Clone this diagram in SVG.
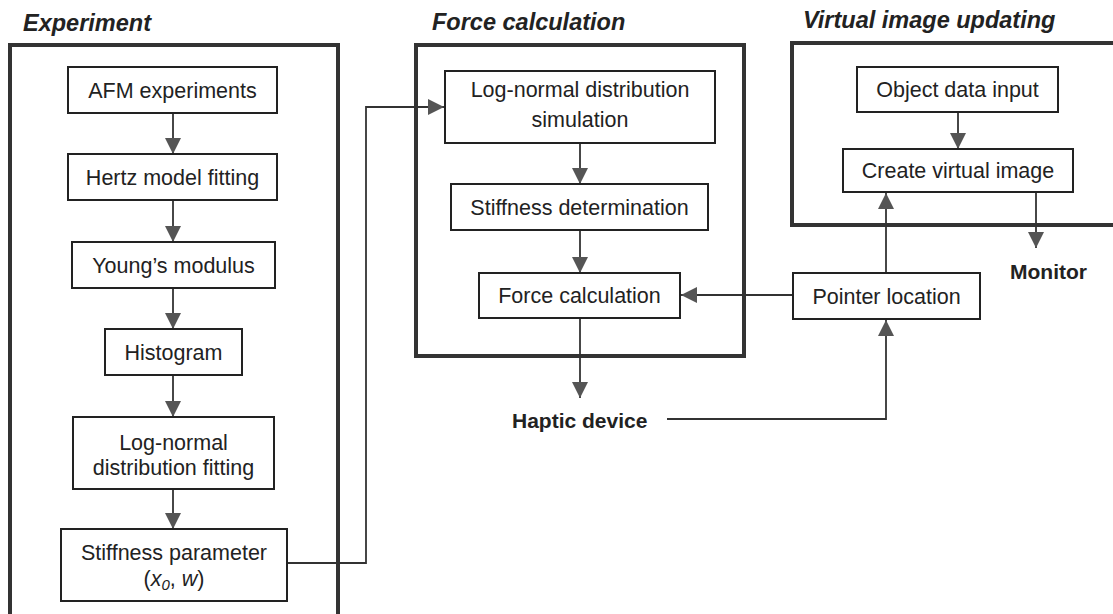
<svg xmlns="http://www.w3.org/2000/svg" width="1113" height="614" viewBox="0 0 1113 614">
<defs>
<style>
.frame{fill:none;stroke:#333;stroke-width:4}
.box{fill:#fff;stroke:#222;stroke-width:2}
.t{font-family:"Liberation Sans",Arial,sans-serif;font-size:21.5px;fill:#222;text-anchor:middle}
.title{font-family:"Liberation Sans",Arial,sans-serif;font-size:23.5px;font-weight:bold;font-style:italic;fill:#222}
.lbl{font-family:"Liberation Sans",Arial,sans-serif;font-size:21px;font-weight:bold;fill:#222}
.c{fill:none;stroke:#333;stroke-width:1.8}
</style>
<marker id="ah" markerUnits="userSpaceOnUse" markerWidth="16" markerHeight="16" viewBox="0 0 14 14" refX="14" refY="7" orient="auto">
<path d="M0,0 L14,7 L0,14 z" fill="#555"/>
</marker>
</defs>
<rect width="1113" height="614" fill="#fff"/>

<g id="frames">
<path class="frame" d="M10,620 V45 H338 V620"/>
<rect class="frame" x="416" y="45" width="328" height="311"/>
<path class="frame" d="M1120,43 H792 V225 H1120"/>
<text class="title" x="23" y="31">Experiment</text>
<text class="title" x="432" y="30">Force calculation</text>
<text class="title" x="803" y="28">Virtual image updating</text>
</g>

<g id="connectors">
<line class="c" x1="173" y1="113" x2="173" y2="154" marker-end="url(#ah)"/>
<line class="c" x1="173" y1="200" x2="173" y2="242" marker-end="url(#ah)"/>
<line class="c" x1="173" y1="288" x2="173" y2="329" marker-end="url(#ah)"/>
<line class="c" x1="173" y1="375" x2="173" y2="417" marker-end="url(#ah)"/>
<line class="c" x1="173" y1="489" x2="173" y2="529" marker-end="url(#ah)"/>
<path class="c" d="M287,563 H366 V107 H444" marker-end="url(#ah)"/>
<line class="c" x1="580" y1="143" x2="580" y2="184" marker-end="url(#ah)"/>
<line class="c" x1="580" y1="230" x2="580" y2="273" marker-end="url(#ah)"/>
<line class="c" x1="580" y1="318" x2="580" y2="398" marker-end="url(#ah)"/>
<line class="c" x1="793" y1="295" x2="681" y2="295" marker-end="url(#ah)"/>
<path class="c" d="M667,419 H886 V320" marker-end="url(#ah)"/>
<line class="c" x1="886" y1="273" x2="886" y2="193" marker-end="url(#ah)"/>
<line class="c" x1="958" y1="112" x2="958" y2="149" marker-end="url(#ah)"/>
<line class="c" x1="1036" y1="192" x2="1036" y2="248" marker-end="url(#ah)"/>
</g>

<g id="afm"><rect class="box" x="68" y="67" width="209" height="46"/><text class="t" x="172.5" y="97.5">AFM experiments</text></g>
<g id="hertz"><rect class="box" x="68" y="154" width="209" height="46"/><text class="t" x="172.5" y="184.5">Hertz model fitting</text></g>
<g id="young"><rect class="box" x="72" y="242" width="203" height="46"/><text class="t" x="173.5" y="272.5">Young’s modulus</text></g>
<g id="histogram"><rect class="box" x="105" y="329" width="137" height="46"/><text class="t" x="173.5" y="359.5">Histogram</text></g>
<g id="lnfit"><rect class="box" x="73" y="417" width="201" height="72"/><text class="t" x="173.5" y="450">Log-normal</text><text class="t" x="173.5" y="475">distribution fitting</text></g>
<g id="stiffparam"><rect class="box" x="61" y="529" width="226" height="72"/><text class="t" x="174" y="560">Stiffness parameter</text><text class="t" x="174" y="586">(<tspan font-style="italic">x</tspan><tspan font-style="italic" font-size="15" dy="4">0</tspan><tspan dy="-4">, </tspan><tspan font-style="italic">w</tspan>)</text></g>

<g id="lnsim"><rect class="box" x="445" y="71" width="270" height="72"/><text class="t" x="580" y="97">Log-normal distribution</text><text class="t" x="580" y="127">simulation</text></g>
<g id="stiffdet"><rect class="box" x="451" y="184" width="257" height="46"/><text class="t" x="579.5" y="214.5">Stiffness determination</text></g>
<g id="forcecalc"><rect class="box" x="479" y="273" width="201" height="45"/><text class="t" x="579.5" y="303">Force calculation</text></g>
<g id="haptic"><text class="lbl" x="512" y="428">Haptic device</text></g>

<g id="objdata"><rect class="box" x="857" y="67" width="201" height="45"/><text class="t" x="957.5" y="97">Object data input</text></g>
<g id="createimg"><rect class="box" x="843" y="149" width="230" height="43"/><text class="t" x="958" y="178">Create virtual image</text></g>
<g id="pointer"><rect class="box" x="793" y="273" width="187" height="46"/><text class="t" x="886.5" y="303.5">Pointer location</text></g>
<g id="monitor"><text class="lbl" x="1010" y="279">Monitor</text></g>
</svg>
